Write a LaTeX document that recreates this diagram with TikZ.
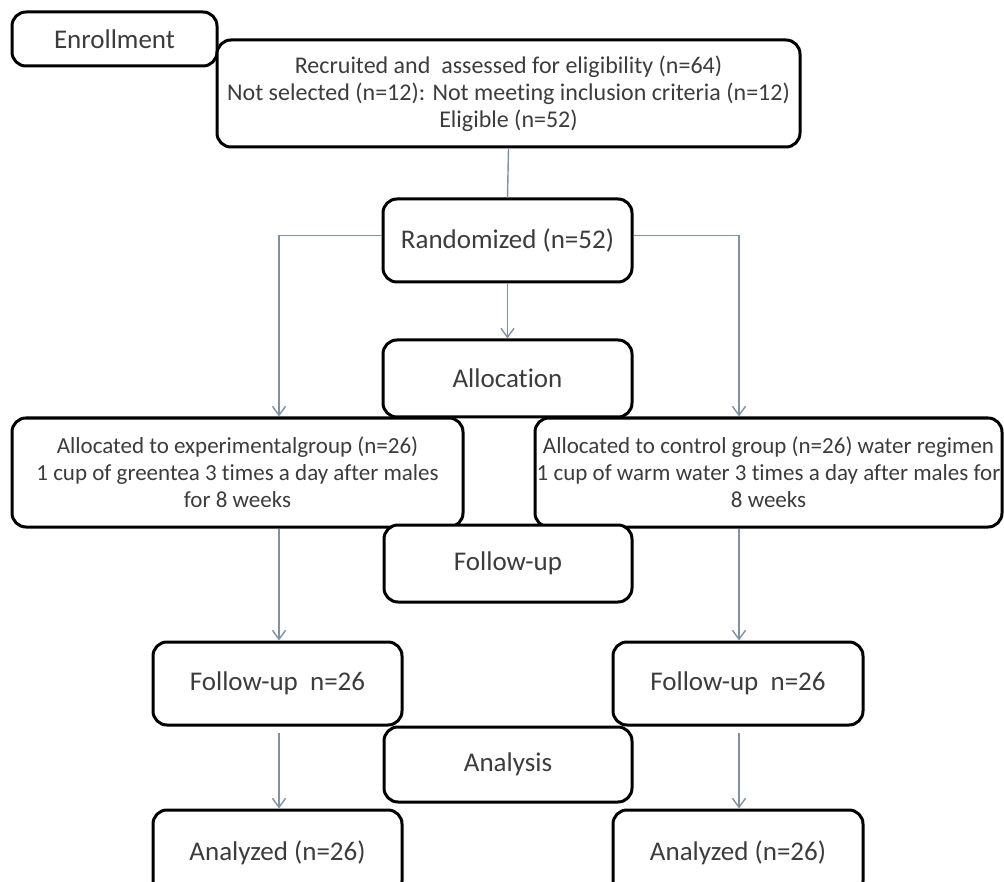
\documentclass[tikz,border=0pt]{standalone}
\usepackage{fontspec}
\setmainfont{Carlito}[Ligatures=NoCommon]
\usetikzlibrary{arrows.meta}
\definecolor{linkblue}{RGB}{125,146,166}
\definecolor{boxtext}{RGB}{60,60,60}
\begin{document}
\begin{tikzpicture}[x=1pt, y=-1pt, >={Straight Barb[length=9pt,width=13pt]},
    box/.style={draw=black, line width=3pt, rounded corners=14pt, fill=white,
      text=boxtext, align=center, inner sep=0pt, font=\fontsize{27}{33}\selectfont},
    smallbox/.style={box, font=\fontsize{23}{27}\selectfont},
    link/.style={draw=linkblue, line width=1.4pt}]
  \path[use as bounding box, clip] (0,0) rectangle (1004,882);
  \fill[white] (0,0) rectangle (1004,882);

  % enrollment
  \node[box, minimum width=205pt, minimum height=54pt] (enroll) at (114.5,39) {Enrollment};
  \node[smallbox, font=\fontsize{24}{27}\selectfont, minimum width=583pt, minimum height=107pt] (recruit) at (508.5,93.5)
    {Recruited and\ \ assessed for eligibility (n=64)\\
     Not selected (n=12): Not meeting inclusion criteria (n=12)\\
     Eligible (n=52)};
  \node[box, minimum width=249pt, minimum height=83pt] (random) at (507.5,240.5) {Randomized (n=52)};

  % allocation
  \node[box, minimum width=249pt, minimum height=77pt] (alloc) at (507.5,378.5) {Allocation};
  \node[smallbox, minimum width=451pt, minimum height=109pt] (expgrp) at (237.5,472.5)
    {Allocated to experimentalgroup (n=26)\\
     1 cup of greentea 3 times a day after males\\
     for 8 weeks};
  \node[smallbox, minimum width=467pt, minimum height=109pt] (ctrlgrp) at (768.5,472.5)
    {Allocated to control group (n=26) water regimen\\
     1 cup of warm water 3 times a day after males for\\
     8 weeks};

  % follow-up
  \node[box, minimum width=248pt, minimum height=77pt] (follow) at (508,563.5) {Follow-up};
  \node[box, minimum width=249pt, minimum height=83pt] (fuleft) at (277.5,683.5) {Follow-up\ \ n=26};
  \node[box, minimum width=250pt, minimum height=83pt] (furight) at (738,683.5) {Follow-up\ \ n=26};

  % analysis
  \node[box, minimum width=248pt, minimum height=75pt] (analysis) at (508,764.5) {Analysis};
  \node[box, minimum width=249pt, minimum height=85pt] (anleft) at (277.5,852.5) {Analyzed (n=26)};
  \node[box, minimum width=250pt, minimum height=85pt] (anright) at (738,852.5) {Analyzed (n=26)};

  \coordinate (lcol) at (279,0);
  \coordinate (rcol) at (739,0);

  \draw[link] (recruit.south) -- (random.north);
  \draw[link, ->] (random.south) -- (alloc.north);
  \draw[link, ->] ([yshift=5pt]random.west) -| (lcol |- expgrp.north);
  \draw[link, ->] ([yshift=5pt]random.east) -| (rcol |- ctrlgrp.north);
  \draw[link, ->] (lcol |- expgrp.south) -- (lcol |- fuleft.north);
  \draw[link, ->] (rcol |- ctrlgrp.south) -- (rcol |- furight.north);
  \draw[link, ->, shorten <=6pt] (lcol |- fuleft.south) -- (lcol |- anleft.north);
  \draw[link, ->, shorten <=6pt] (rcol |- furight.south) -- (rcol |- anright.north);
\end{tikzpicture}
\end{document}
